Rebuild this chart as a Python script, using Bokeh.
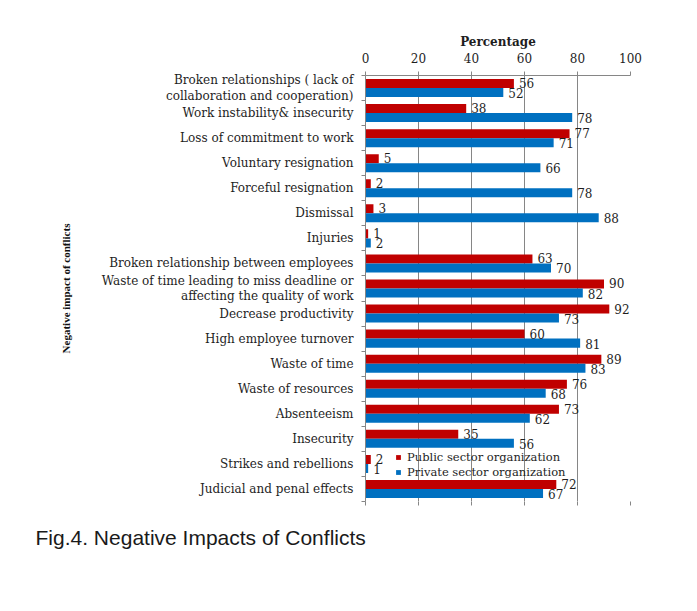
from bokeh.plotting import figure
from bokeh.models import (Range1d, ColumnDataSource, FixedTicker,
                          LinearAxis, Legend, LegendItem, Title)
from bokeh.transform import dodge
from bokeh.core.properties import value
from bokeh.embed import file_html
from bokeh.resources import INLINE

# ---- data -------------------------------------------------------------
categories = [
    "Broken relationships ( lack of\ncollaboration and cooperation)",
    "Work instability& insecurity",
    "Loss of commitment to work",
    "Voluntary resignation",
    "Forceful resignation",
    "Dismissal",
    "Injuries",
    "Broken relationship between employees",
    "Waste of time leading to miss deadline or\naffecting the quality of work",
    "Decrease productivity",
    "High employee turnover",
    "Waste of time",
    "Waste of resources",
    "Absenteeism",
    "Insecurity",
    "Strikes and rebellions",
    "Judicial and penal effects",
]
public_sector = [56, 38, 77, 5, 2, 3, 1, 63, 90, 92, 60, 89, 76, 73, 35, 2, 72]
private_sector = [52, 78, 71, 66, 78, 88, 2, 70, 82, 73, 81, 83, 68, 62, 56, 1, 67]
x_ticks = [0, 20, 40, 60, 80, 100]

series_names = ["Public sector organization", "Private sector organization"]
caption = "Fig.4. Negative Impacts of Conflicts"

# ---- styling ----------------------------------------------------------
RED = "#C00000"
BLUE = "#0070C0"
GRID = "#868686"
SERIF = "DejaVu Serif"
TEXT = "#1e1e1e"

n = len(categories)
# first category at the top: row centres counted down from n
row_pos = [n - i - 0.5 for i in range(n)]

src = ColumnDataSource(dict(
    row=row_pos,
    public=public_sector,
    private=private_sector,
    public_lbl=[str(v) for v in public_sector],
    private_lbl=[str(v) for v in private_sector],
))

p = figure(width=697, height=611,
           x_range=Range1d(0, 100), y_range=Range1d(0, n),
           x_axis_location="above", y_axis_location=None,
           output_backend="svg", toolbar_location=None,
           min_border_left=365, min_border_right=67,
           min_border_top=75, min_border_bottom=110,
           outline_line_color=None,
           background_fill_color="white", border_fill_color="white")

# top value axis
xa = p.xaxis[0]
xa.ticker = FixedTicker(ticks=x_ticks)
xa.minor_tick_line_color = None
xa.major_tick_out = 4
xa.major_tick_in = 0
xa.axis_line_color = GRID
xa.major_tick_line_color = GRID
xa.major_label_text_font = SERIF
xa.major_label_text_font_size = "12px"
xa.major_label_text_color = TEXT
xa.major_label_standoff = 9
xa.axis_label = "Percentage"
xa.axis_label_text_font = SERIF
xa.axis_label_text_font_size = "12px"
xa.axis_label_text_font_style = "bold"
xa.axis_label_text_color = TEXT
xa.axis_label_standoff = 1

# tick marks under the plot (no labels, no line)
bottom_ticks = LinearAxis(ticker=FixedTicker(ticks=x_ticks),
                          axis_line_color=None, major_tick_line_color=GRID,
                          major_tick_out=4, major_tick_in=0,
                          minor_tick_line_color=None,
                          major_label_text_color=None,
                          major_label_text_font_size="1px",
                          major_label_overrides={t: "" for t in x_ticks})
p.add_layout(bottom_ticks, "below")

# category boundary ticks on the left
edge_axis = LinearAxis(ticker=FixedTicker(ticks=list(range(n + 1))),
                       major_tick_out=4, major_tick_in=0,
                       minor_tick_line_color=None,
                       axis_line_color=GRID, major_tick_line_color=GRID,
                       major_label_text_color=None,
                       major_label_text_font_size="1px",
                       major_label_standoff=0,
                       major_label_overrides={i: "" for i in range(n + 1)})
p.add_layout(edge_axis, "left")

# category names at the row centres
cat_axis = LinearAxis(ticker=FixedTicker(ticks=row_pos),
                      major_label_overrides={y: c for y, c in zip(row_pos, categories)},
                      major_tick_line_color=None, major_tick_out=0,
                      minor_tick_line_color=None,
                      axis_line_color=None,
                      major_label_standoff=8,
                      major_label_text_font=SERIF,
                      major_label_text_font_size="12px",
                      major_label_text_color=TEXT,
                      major_label_text_line_height=1.1,
                      axis_label="Negative impact of conflicts",
                      axis_label_text_font="Liberation Serif",
                      axis_label_text_font_size="11px",
                      axis_label_text_font_style="bold",
                      axis_label_text_color="#111111",
                      axis_label_standoff=27)
p.add_layout(cat_axis, "left")

p.xgrid.ticker = FixedTicker(ticks=x_ticks)
p.xgrid.grid_line_color = GRID
p.ygrid.grid_line_color = None

# bars
r_pub = p.hbar(y=dodge("row", 0.18), left=0, right="public",
               height=0.36, source=src, fill_color=RED, line_color=None)
r_pri = p.hbar(y=dodge("row", -0.18), left=0, right="private",
               height=0.36, source=src, fill_color=BLUE, line_color=None)

# value labels
p.text(x="public", y=dodge("row", 0.2), text="public_lbl",
       source=src, x_offset=5, text_baseline="middle", text_align="left",
       text_font=value(SERIF), text_font_size="12px", text_color=TEXT)
p.text(x="private", y=dodge("row", -0.2), text="private_lbl",
       source=src, x_offset=5, text_baseline="middle", text_align="left",
       text_font=value(SERIF), text_font_size="12px", text_color=TEXT)

# legend in the empty space of the "Strikes and rebellions" row
legend = Legend(items=[LegendItem(label=series_names[0], renderers=[r_pub]),
                       LegendItem(label=series_names[1], renderers=[r_pri])],
                orientation="vertical", location=(30, 22),
                glyph_width=6, glyph_height=6, label_standoff=6, spacing=1,
                label_height=12, padding=0, margin=0,
                border_line_color=None, background_fill_alpha=0,
                label_text_font=SERIF, label_text_font_size="11.5px",
                label_text_color=TEXT)
p.add_layout(legend, "center")

# figure caption at the bottom left
p.add_layout(Title(text=caption, align="left", offset=-330, standoff=37,
                   text_font="Liberation Sans", text_font_size="21px",
                   text_font_style="normal", text_color="#1a1a1a"), "below")

open("out.html", "w").write(file_html(p, INLINE))
